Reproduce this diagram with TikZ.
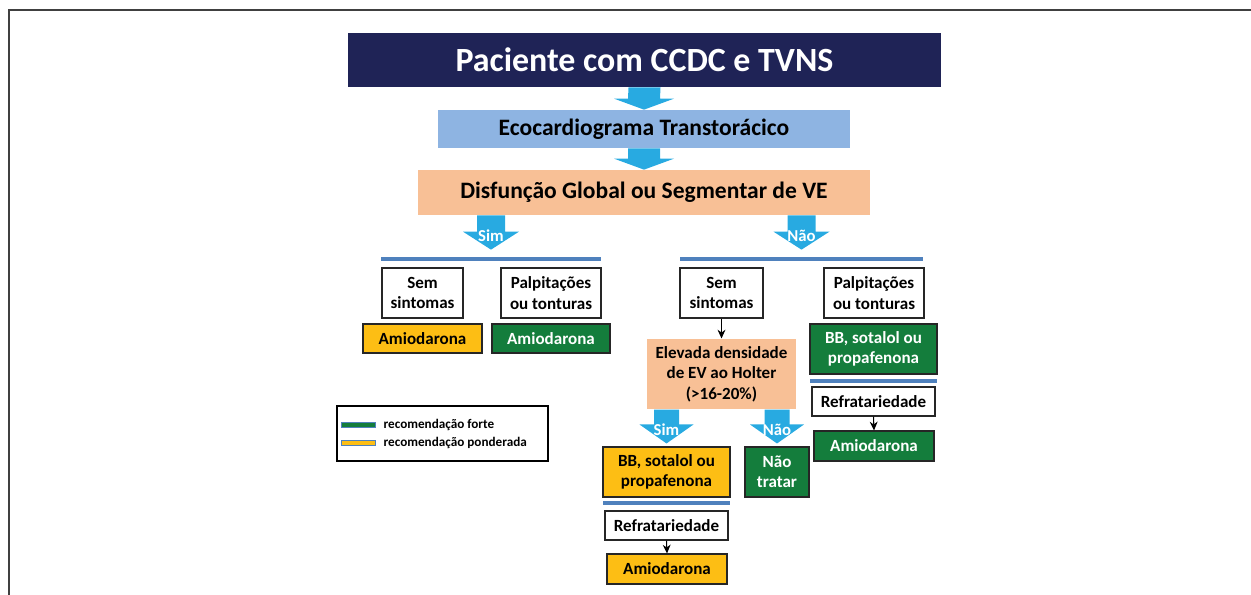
\documentclass[tikz,border=0pt]{standalone}
\usepackage{fontspec}
\setmainfont{Carlito}
\usetikzlibrary{calc,arrows.meta}

\definecolor{navy}{RGB}{31,35,86}
\definecolor{ecoblue}{RGB}{142,180,226}
\definecolor{peach}{RGB}{248,192,150}
\definecolor{flowcyan}{RGB}{40,170,225}
\definecolor{barblue}{RGB}{79,129,189}
\definecolor{recyellow}{RGB}{253,190,20}
\definecolor{recgreen}{RGB}{20,125,60}
\definecolor{framegray}{RGB}{64,64,64}

\tikzset{
	sz/.style 2 args={minimum width=#1*0.02cm, minimum height=#2*0.02cm},
	box/.style={draw=black!85, line width=0.6pt, inner sep=0pt, align=center, font=\fontsize{9.7}{11.6}\selectfont\bfseries},
	whitebox/.style={box, fill=white},
	yellowbox/.style={box, fill=recyellow},
	greenbox/.style={box, fill=recgreen, text=white},
	peachbox/.style={box, fill=peach},
	headbox/.style={inner sep=0pt, align=center, font=\fontsize{13.4}{16}\selectfont\bfseries},
	bar/.style={fill=barblue, inner sep=0pt},
	flowlabel/.style={text=white, inner sep=0pt, font=\fontsize{9.5}{11}\selectfont\bfseries},
	legendtext/.style={anchor=west, inner sep=0pt, font=\fontsize{7.5}{9}\selectfont\bfseries},
	thinarrow/.style={-{Stealth[length=5pt,width=4.5pt]}, line width=0.6pt},
}

% shaft half width, head half width, head length, top, tip, label
\newcommand{\fatarrow}[6]{%
	\fill[flowcyan] ($(#4)+(-#1,0)$) -- ($(#5)+(-#1,-#3)$) -- ($(#5)+(-#2,-#3)$) -- (#5)
		-- ($(#5)+(#2,-#3)$) -- ($(#5)+(#1,-#3)$) -- ($(#4)+(#1,0)$) -- cycle;
	\node[flowlabel] at ($(#5)+(0,-14)$) {#6};}

\begin{document}
\begin{tikzpicture}[x=0.02cm, y=-0.02cm]
	\useasboundingbox (0,0) rectangle (1251,595);
	\draw[framegray, line width=1.2pt] (9,595) -- (9,10) -- (1251,10);

	\node[sz={593}{54}, fill=navy, inner sep=0pt, text=white, font=\fontsize{19.3}{23}\selectfont\bfseries] (title) at (644.5,60) {Paciente com CCDC e TVNS};
	\node[headbox, sz={412}{38}, fill=ecoblue] (eco) at (644,129) {Ecocardiograma Transtorácico};
	\node[headbox, sz={452}{45}, fill=peach] (disf) at (644,192.5) {Disfunção Global ou Segmentar de VE};
	\fatarrow{16}{30}{11}{title.south}{eco.north}{}
	\fatarrow{16}{30}{11}{eco.south}{disf.north}{}

	\node[bar, sz={220}{4}] (barL) at (491,259) {};
	\node[bar, sz={243}{4}] (barR) at (801.5,259) {};
	\coordinate (simtip) at ($(barL.north)+(0,-7)$);
	\coordinate (simtop) at (disf.south -| simtip);
	\coordinate (naotip) at ($(barR.north)+(0,-7)$);
	\coordinate (naotop) at (disf.south -| naotip);
	\fatarrow{14}{28}{18}{simtop}{simtip}{Sim}
	\fatarrow{14}{28}{18}{naotop}{naotip}{Não}

	\node[whitebox, sz={81}{50}] (semL) at (422.5,293) {Sem\\sintomas};
	\node[whitebox, sz={100}{50}] (palpL) at (551,293) {Palpitações\\ou tonturas};
	\node[yellowbox, sz={119}{29}] (amioL) at (422.5,338.5) {Amiodarona};
	\node[greenbox, sz={118}{29}] (amioL2) at (551,338.5) {Amiodarona};

	\node[whitebox, sz={83}{50}] (semR) at (721.5,293) {Sem\\sintomas};
	\node[whitebox, sz={100}{50}] (palpR) at (874,293) {Palpitações\\ou tonturas};
	\node[peachbox, draw=none, sz={149}{70}] (elev) at (721.5,374) {Elevada densidade\\de EV ao Holter\\(>16-20\%)};
	\draw[thinarrow] (semR.south) -- (elev.north);

	\node[greenbox, sz={127}{50}] (bbR) at (873.5,349) {BB, sotalol ou\\propafenona};
	\node[bar, sz={127}{4}] (barR2) at (873.5,381) {};
	\node[whitebox, sz={123}{29}] (refR) at (873.5,401.5) {Refratariedade};
	\node[greenbox, sz={120}{30}] (amioR) at (874,446) {Amiodarona};
	\draw[thinarrow] (refR.south) -- (amioR.north);

	\node[yellowbox, sz={127}{50}] (bbY) at (666.5,472) {BB, sotalol ou\\propafenona};
	\node[greenbox, sz={64}{50}] (naotratar) at (777,472) {Não\\tratar};
	\coordinate (simtip2) at ($(bbY.north)+(0,-3)$);
	\coordinate (simtop2) at (elev.south -| simtip2);
	\coordinate (naotip2) at ($(naotratar.north)+(0,-3)$);
	\coordinate (naotop2) at (elev.south -| naotip2);
	\fatarrow{12.5}{27}{19}{simtop2}{simtip2}{Sim}
	\fatarrow{12.5}{27}{19}{naotop2}{naotip2}{Não}

	\node[bar, sz={127}{4}] (barY) at (666.5,503) {};
	\node[whitebox, sz={123}{29}] (refY) at (666.5,525.5) {Refratariedade};
	\node[yellowbox, sz={120}{30}] (amioY) at (667,569) {Amiodarona};
	\draw[thinarrow] (refY.south) -- (amioY.north);

	\node[draw=black, line width=1pt, inner sep=0pt, sz={211}{55}] (legend) at (442.5,433.5) {};
	\node[fill=recgreen, draw=barblue, line width=0.4pt, inner sep=0pt, sz={34}{5}] (swgreen) at (358,424.5) {};
	\node[fill=recyellow, draw=barblue, line width=0.4pt, inner sep=0pt, sz={34}{5}] (swyellow) at (358,442.5) {};
	\node[legendtext] (lgreen) at ($(swgreen.east)+(8,0)$) {recomendação forte};
	\node[legendtext] (lyellow) at ($(swyellow.east)+(8,0)$) {recomendação ponderada};
\end{tikzpicture}
\end{document}
